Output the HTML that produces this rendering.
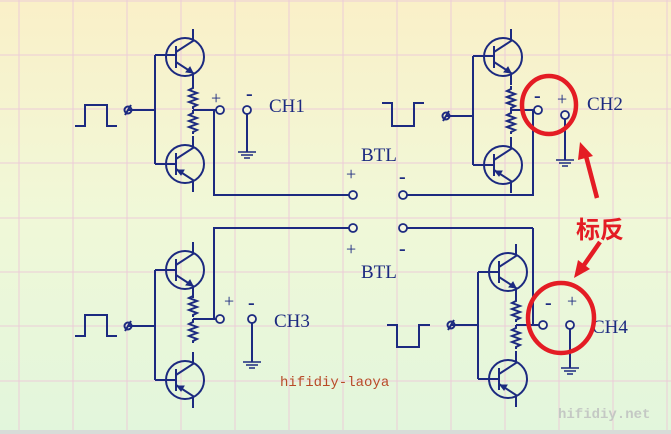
<!DOCTYPE html>
<html><head><meta charset="utf-8"><style>
html,body{margin:0;padding:0;width:671px;height:434px;overflow:hidden}
svg{display:block}
</style></head><body>
<svg width="671" height="434" viewBox="0 0 671 434" xmlns="http://www.w3.org/2000/svg">
<defs>
<linearGradient id="bg" x1="0" y1="0" x2="0" y2="1">
<stop offset="0" stop-color="#faf0c8"/><stop offset="0.5" stop-color="#f0f8d8"/><stop offset="1" stop-color="#e2f6dc"/>
</linearGradient>
<g id="npn" fill="none" stroke="#1c2a80" stroke-width="2">
<circle r="19" cx="0" cy="0"/>
<line x1="-9" y1="-11" x2="-9" y2="11"/>
<polyline points="-9,-5 8,-16 8,-28"/>
<polyline points="-9,5 8,16 8,28"/>
<polygon points="8,16 1,15 5,10" fill="#1c2a80" stroke-width="1"/>
</g>
<g id="pnp" fill="none" stroke="#1c2a80" stroke-width="2">
<circle r="19" cx="0" cy="0"/>
<line x1="-9" y1="-11" x2="-9" y2="11"/>
<polyline points="-9,-5 8,-16 8,-28"/>
<polyline points="-9,5 8,16 8,28"/>
<polygon points="-8,6 -1,6 -4,11" fill="#1c2a80" stroke-width="1"/>
</g>
<polyline id="res" points="0,0 0,3 -4,5 4,8 -4,11 4,14 -4,17 4,20 0,22 0,24" fill="none" stroke="#1c2a80" stroke-width="2"/>
<g id="gnd" stroke="#1c2a80" stroke-width="1.5"><line x1="-9" y1="0" x2="9" y2="0"/><line x1="-6" y1="3" x2="6" y2="3"/><line x1="-3" y1="6" x2="3" y2="6"/></g>
</defs>
<rect width="671" height="434" fill="url(#bg)"/>
<g stroke="#ecccd8" stroke-width="1">
<line x1="19" y1="0" x2="19" y2="434"/><line x1="73" y1="0" x2="73" y2="434"/><line x1="127" y1="0" x2="127" y2="434"/><line x1="181" y1="0" x2="181" y2="434"/><line x1="235" y1="0" x2="235" y2="434"/><line x1="289" y1="0" x2="289" y2="434"/><line x1="343" y1="0" x2="343" y2="434"/><line x1="397" y1="0" x2="397" y2="434"/><line x1="451" y1="0" x2="451" y2="434"/><line x1="505" y1="0" x2="505" y2="434"/><line x1="559" y1="0" x2="559" y2="434"/><line x1="613" y1="0" x2="613" y2="434"/><line x1="667" y1="0" x2="667" y2="434"/>
<line x1="0" y1="1" x2="671" y2="1"/><line x1="0" y1="55" x2="671" y2="55"/><line x1="0" y1="109" x2="671" y2="109"/><line x1="0" y1="163" x2="671" y2="163"/><line x1="0" y1="218" x2="671" y2="218"/><line x1="0" y1="272" x2="671" y2="272"/><line x1="0" y1="326" x2="671" y2="326"/><line x1="0" y1="381" x2="671" y2="381"/>
</g>
<rect x="0" y="430" width="671" height="4" fill="#d8dcd8"/>

<g fill="none" stroke="#1c2a80" stroke-width="2">
<polyline points="75,126 85,126 85,105 107,105 107,126 117,126"/>
<line x1="128" y1="110" x2="155" y2="110"/>
<line x1="155" y1="55" x2="155" y2="164"/>
<line x1="155" y1="55" x2="176" y2="55"/><line x1="155" y1="164" x2="176" y2="164"/>
<line x1="193" y1="110" x2="216" y2="110"/>
<polyline points="214,110 214,195 349,195"/>
<line x1="247" y1="114" x2="247" y2="152"/>
<polyline points="382,103 392,103 392,126 414,126 414,103 424,103"/>
<line x1="446" y1="116" x2="473" y2="116"/>
<line x1="473" y1="56" x2="473" y2="165"/>
<line x1="473" y1="56" x2="494" y2="56"/><line x1="473" y1="165" x2="494" y2="165"/>
<line x1="511" y1="110" x2="534" y2="110"/>
<polyline points="533,110 533,195 407,195"/>
<line x1="565" y1="119" x2="565" y2="160"/>
<line x1="407" y1="228" x2="533" y2="228"/><line x1="533" y1="228" x2="533" y2="325"/>
<polyline points="349,228 214,228 214,319"/>
<polyline points="75,336 85,336 85,315 107,315 107,336 117,336"/>
<line x1="128" y1="326" x2="155" y2="326"/>
<line x1="155" y1="270" x2="155" y2="380"/>
<line x1="155" y1="270" x2="176" y2="270"/><line x1="155" y1="380" x2="176" y2="380"/>
<line x1="193" y1="319" x2="216" y2="319"/>
<line x1="252" y1="323" x2="252" y2="362"/>
<polyline points="387,325 397,325 397,347 419,347 419,325 430,325"/>
<line x1="451" y1="325" x2="478" y2="325"/>
<line x1="478" y1="272" x2="478" y2="379"/>
<line x1="478" y1="272" x2="499" y2="272"/><line x1="478" y1="379" x2="499" y2="379"/>
<line x1="516" y1="325" x2="539" y2="325"/>
<line x1="570" y1="329" x2="570" y2="368"/>
</g>
<g fill="none" stroke="#1c2a80" stroke-width="2">
<circle cx="128" cy="110" r="3.5"/><line x1="125" y1="115" x2="131" y2="105"/>
<circle cx="446" cy="116" r="3.5"/><line x1="443" y1="121" x2="449" y2="111"/>
<circle cx="128" cy="326" r="3.5"/><line x1="125" y1="331" x2="131" y2="321"/>
<circle cx="451" cy="325" r="3.5"/><line x1="448" y1="330" x2="454" y2="320"/>
</g>
<use href="#npn" x="185" y="57"/><use href="#pnp" x="185" y="164"/>
<use href="#npn" x="503" y="57"/><use href="#pnp" x="503" y="165"/>
<use href="#npn" x="185" y="270"/><use href="#pnp" x="185" y="380"/>
<use href="#npn" x="508" y="272"/><use href="#pnp" x="508" y="379"/>
<use href="#res" x="193" y="85"/><use href="#res" x="193" y="110"/>
<use href="#res" x="511" y="86"/><use href="#res" x="511" y="110"/>
<use href="#res" x="193" y="293"/><use href="#res" x="193" y="319"/>
<use href="#res" x="516" y="298"/><use href="#res" x="516" y="325"/>
<use href="#gnd" x="247" y="152"/><use href="#gnd" x="565" y="160"/>
<use href="#gnd" x="252" y="362"/><use href="#gnd" x="570" y="368"/>
<g fill="#f4f6e0" stroke="#1c2a80" stroke-width="1.8">
<circle cx="220" cy="110" r="4"/><circle cx="247" cy="110" r="4"/>
<circle cx="538" cy="110" r="4"/><circle cx="565" cy="115" r="4"/>
<circle cx="353" cy="195" r="4"/><circle cx="403" cy="195" r="4"/>
<circle cx="353" cy="228" r="4"/><circle cx="403" cy="228" r="4"/>
<circle cx="220" cy="319" r="4"/><circle cx="252" cy="319" r="4"/>
<circle cx="543" cy="325" r="4"/><circle cx="570" cy="325" r="4"/>
</g>
<g fill="#1c2a80" font-family="Liberation Serif, serif">
<text x="269" y="112" font-size="19">CH1</text>
<text x="587" y="110" font-size="19">CH2</text>
<text x="274" y="327" font-size="19">CH3</text>
<text x="592" y="333" font-size="19">CH4</text>
<text x="361" y="161" font-size="19">BTL</text>
<text x="361" y="278" font-size="19">BTL</text>
<text x="211" y="104" font-size="18">+</text><text x="246" y="100" font-size="20" font-weight="bold">-</text>
<text x="534" y="102" font-size="20" font-weight="bold">-</text><text x="557" y="105" font-size="18">+</text>
<text x="346" y="180" font-size="18">+</text><text x="399" y="183" font-size="20" font-weight="bold">-</text>
<text x="346" y="255" font-size="18">+</text><text x="399" y="255" font-size="20" font-weight="bold">-</text>
<text x="224" y="307" font-size="18">+</text><text x="248" y="309" font-size="20" font-weight="bold">-</text>
<text x="545" y="309" font-size="20" font-weight="bold">-</text><text x="567" y="307" font-size="18">+</text>
</g>
<text x="280" y="386" font-family="Liberation Mono, monospace" font-size="14" fill="#b84a28">hifidiy-laoya</text>
<text x="558" y="418" font-family="Liberation Mono, monospace" font-size="14" font-weight="bold" fill="#c4c8c4">hifidiy.net</text>
<g fill="none" stroke="#e41c24" stroke-width="4.5">
<ellipse cx="549" cy="105" rx="27" ry="29"/>
<ellipse cx="561" cy="318" rx="33" ry="35"/>
<line x1="597" y1="198" x2="586" y2="156"/>
<line x1="600" y1="242" x2="584" y2="265"/>
</g>
<polygon points="580,142 578,160 593,156" fill="#e41c24"/>
<polygon points="574,278 578,260 590,269" fill="#e41c24"/>
<text x="576" y="238" font-family="Liberation Sans, 'Noto Sans CJK SC', sans-serif" font-size="24" font-weight="bold" fill="#e41c24">标反</text>
</svg>
</body></html>
